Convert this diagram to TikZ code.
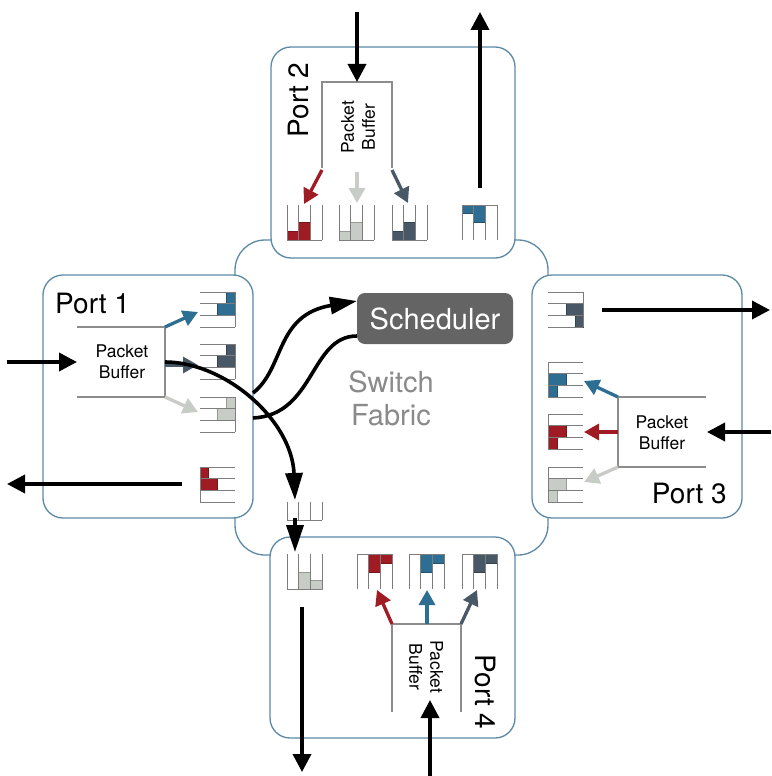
\documentclass[tikz,border=0pt]{standalone}
\usepackage{fontspec}
\setmainfont{TeX Gyre Heros}
\usetikzlibrary{arrows.meta}

\definecolor{boxblue}{RGB}{92,138,166}
\definecolor{pred}{RGB}{160,28,36}
\definecolor{pblue}{RGB}{46,110,147}
\definecolor{pslate}{RGB}{72,88,102}
\definecolor{pgray}{RGB}{200,204,198}
\definecolor{qline}{RGB}{125,125,125}
\definecolor{bufline}{RGB}{140,140,140}
\definecolor{schedgray}{RGB}{100,100,100}
\definecolor{fabrictext}{RGB}{138,138,138}

\tikzset{
  portbox/.style={draw=boxblue, line width=1.3pt, fill=white, rounded corners=20pt},
  flow/.style={line width=3.6pt, -{Triangle[length=18pt,width=18pt]}},
  longflow/.style={line width=3.6pt, -{Triangle[length=27pt,width=17pt]}},
  plainflow/.style={line width=3.6pt},
  sortarrow/.style={line width=3.3pt, -{Triangle[length=15pt,width=16pt]}},
  qgrid/.style={draw=qline, line width=0.9pt},
  bufwall/.style={draw=bufline, line width=1.2pt},
  portlabel/.style={font=\fontsize{28}{30}\selectfont, inner sep=0pt},
  buflabel/.style={font=\fontsize{17.5}{21}\selectfont, align=center, inner sep=0pt},
  schedbox/.style={fill=schedgray, rounded corners=8pt, minimum width=156pt,
    minimum height=51pt, inner sep=0pt, text=white, font=\fontsize{29}{31}\selectfont},
}

% vertical three-slot queue: top-left (#1,#2); closed end at offset #3 (0 = top, 35 = bottom)
\newcommand{\VertQueue}[3]{%
  \foreach \k in {0,...,3} \draw[qgrid] ({#1+\k*11.667},#2) -- ++(0,35);
  \draw[qgrid] (#1,{#2+#3}) -- ++(35,0);}
% horizontal three-slot queue: top-left (#1,#2); closed end at offset #3 (0 = left, 35 = right)
\newcommand{\HorzQueue}[3]{%
  \foreach \k in {0,...,3} \draw[qgrid] (#1,{#2+\k*11.667}) -- ++(35,0);
  \draw[qgrid] ({#1+#3},#2) -- ++(0,35);}
% one queued packet
\newcommand{\Pkt}[5]{\fill[#1, draw=#1!75!black, line width=0.6pt] (#2,#3) rectangle (#4,#5);}

\begin{document}
\begin{tikzpicture}[x=1pt, y=-1pt]
\useasboundingbox (0,0) rectangle (771,776);

% switch fabric and the four ports
\draw[portbox, rounded corners=30pt] (235,240) rectangle (548,555);
\draw[portbox] (271,47) rectangle (515,258);
\draw[portbox] (43,275) rectangle (253,518);
\draw[portbox] (532,275) rectangle (742,518);
\draw[portbox] (270,537) rectangle (515,738);

% ---------------- Port 2 ----------------
\node[portlabel, rotate=90] (p2label) at (298,100) {Port 2};
\draw[bufwall] (322,168) -- (322,82) -- (392,82) -- (392,168);
\node[buflabel, rotate=90] (p2buf) at (358,127) {Packet\\Buffer};
\coordinate (p2in) at (357,12);   \coordinate (p2top) at (357,82);
\draw[flow] (p2in) -- (p2top);
\foreach \x/\c in {287/pred, 339/pgray, 392/pslate}{
  \Pkt{\c}{\x}{231}{\x+11.667}{240}
  \Pkt{\c}{\x+11.667}{222}{\x+23.333}{240}
  \VertQueue{\x}{205}{35}}
\Pkt{pblue}{462}{205}{473.667}{213}
\Pkt{pblue}{473.667}{205}{485.333}{222}
\VertQueue{462}{205}{0}
\coordinate (p2outA) at (480,188); \coordinate (p2outB) at (480,12);
\draw[flow] (p2outA) -- (p2outB);
\draw[sortarrow, pred]   (322,170) -- (304,204);
\draw[sortarrow, pgray]  (357,172) -- (357,203);
\draw[sortarrow, pslate] (392,170) -- (408,203);

% ---------------- Port 1 ----------------
\node[portlabel, anchor=base west] (p1label) at (55,313) {Port 1};
\draw[bufwall] (77,327) -- (165,327) -- (165,397) -- (77,397);
\node[buflabel] (p1buf) at (122,362) {Packet\\Buffer};
\coordinate (p1in) at (7,362); \coordinate (p1left) at (77,362);
\draw[flow] (p1in) -- (p1left);
\foreach \y/\c in {292/pblue, 344/pslate, 397/pgray}{
  \Pkt{\c}{226}{\y}{235}{\y+11.667}
  \Pkt{\c}{217}{\y+11.667}{235}{\y+23.333}
  \HorzQueue{200}{\y}{35}}
\Pkt{pred}{200}{467}{208.5}{478.667}
\Pkt{pred}{200}{478.667}{217}{490.333}
\HorzQueue{200}{467}{0}
\coordinate (p1outA) at (182,484); \coordinate (p1outB) at (7,484);
\draw[flow] (p1outA) -- (p1outB);
\draw[sortarrow, pblue]  (165,327) -- (198,312);
\draw[sortarrow, pslate] (165,365) -- (198,365);
\draw[sortarrow, pgray]  (165,397) -- (198,412);

% ---------------- Port 3 ----------------
\node[portlabel, anchor=base east] (p3label) at (727,503) {Port 3};
\draw[bufwall] (706,397) -- (618,397) -- (618,467) -- (706,467);
\node[buflabel] (p3buf) at (662,433) {Packet\\Buffer};
\coordinate (p3in) at (771,432); \coordinate (p3right) at (707,432);
\draw[flow] (p3in) -- (p3right);
\Pkt{pslate}{566}{303.667}{583}{315.333}
\Pkt{pslate}{575}{315.333}{583}{327}
\HorzQueue{548}{292}{35}
\coordinate (p3outA) at (602,310); \coordinate (p3outB) at (770,310);
\draw[flow] (p3outA) -- (p3outB);
\foreach \y/\c in {362/pblue, 414/pred, 467/pgray}{
  \Pkt{\c}{548}{\y+11.667}{566}{\y+23.333}
  \Pkt{\c}{548}{\y+23.333}{557}{\y+35}
  \HorzQueue{548}{\y}{0}}
\draw[sortarrow, pblue] (618,397) -- (584,381);
\draw[sortarrow, pred]  (618,432) -- (584,432);
\draw[sortarrow, pgray] (618,467) -- (584,482);

% ---------------- Port 4 ----------------
\node[portlabel, rotate=-90] (p4label) at (485,692) {Port 4};
\draw[bufwall] (392,712) -- (392,624) -- (461,624) -- (461,712);
\node[buflabel, rotate=-90] (p4buf) at (426,667) {Packet\\Buffer};
\coordinate (p4in) at (430,776); \coordinate (p4bottom) at (430,700);
\draw[flow] (p4in) -- (p4bottom);
\Pkt{pgray}{298.667}{572}{310.333}{589}
\Pkt{pgray}{310.333}{580}{322}{589}
\VertQueue{287}{554}{35}
\foreach \x/\c in {357/pred, 409/pblue, 462/pslate}{
  \Pkt{\c}{\x+11.667}{554}{\x+23.333}{572}
  \Pkt{\c}{\x+23.333}{554}{\x+35}{563}
  \VertQueue{\x}{554}{0}}
\coordinate (p4outA) at (302,607); \coordinate (p4outB) at (302,772);
\draw[flow] (p4outA) -- (p4outB);
\draw[sortarrow, pred]   (392,624) -- (377,590);
\draw[sortarrow, pblue]  (427,624) -- (427,590);
\draw[sortarrow, pslate] (461,624) -- (477,590);

% ---------------- fabric ----------------
\node[schedbox] (sched) at (435,318.5) {Scheduler};
\node[font=\fontsize{29}{33}\selectfont, text=fabrictext, align=center, inner sep=0pt]
  (fabric) at (391,398) {Switch\\Fabric};
% staging queue inside the fabric
\foreach \k in {0,...,3} \draw[qgrid] ({287+\k*11.667},502) -- ++(0,18);
\draw[qgrid] (287,520) -- ++(35,0);
\coordinate (stageIn) at (295,500); \coordinate (stageOut) at (295,518);
\coordinate (p4stage) at (295,552);
\coordinate (p1curve) at (165,362);
\draw[longflow] (p1curve) .. controls (225,362) and (292,420) .. (stageIn);
\draw[longflow] (stageOut) -- (p4stage);
% request / grant with the scheduler
\coordinate (reqStart) at (253,393); \coordinate (reqEnd) at (357,301);
\coordinate (grantStart) at (357,336); \coordinate (grantEnd) at (253,418);
\draw[longflow] (reqStart) .. controls (285,368) and (275,315) .. (reqEnd);
\draw[plainflow] (grantStart) .. controls (310,336) and (315,415) .. (grantEnd);
\end{tikzpicture}
\end{document}
